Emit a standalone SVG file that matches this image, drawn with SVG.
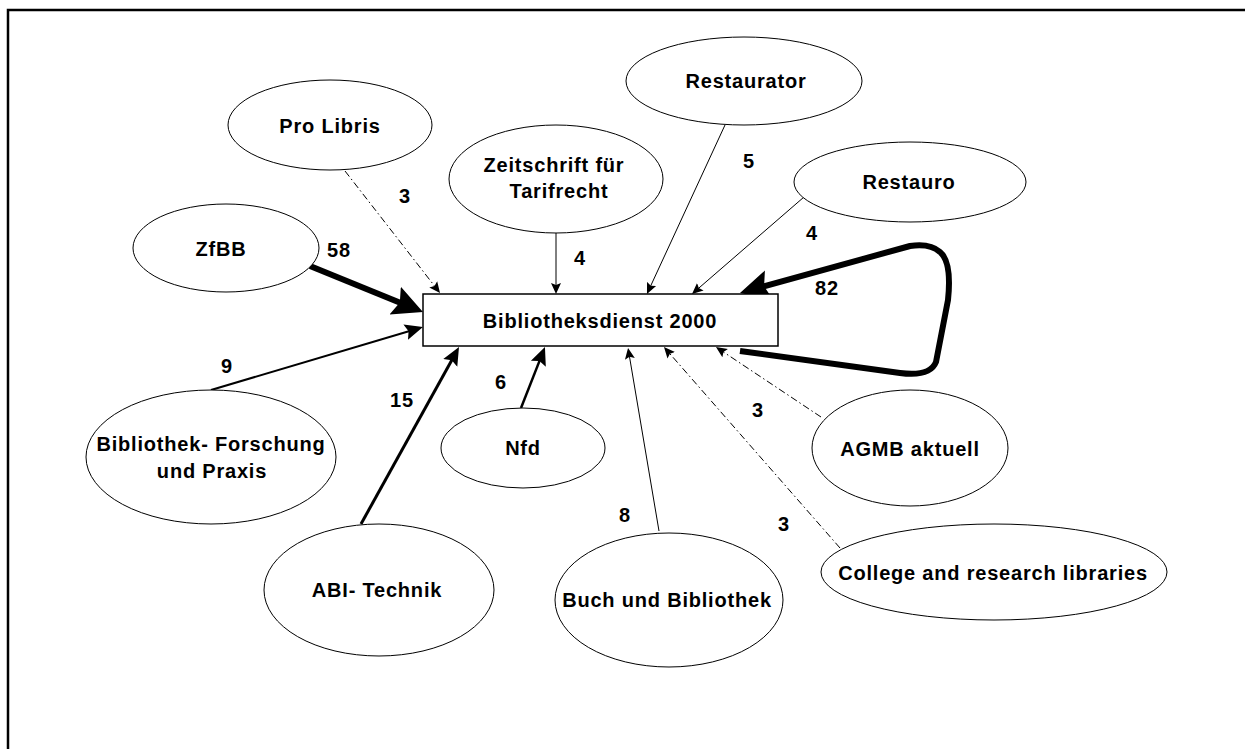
<svg xmlns="http://www.w3.org/2000/svg" width="1245" height="749" viewBox="0 0 1245 749">
<style>
  .bg{fill:#fff}
  .frame{stroke:#000;stroke-width:2.5;fill:none}
  .node ellipse{fill:#fff;stroke:#000;stroke-width:1}
  .node rect{fill:#fff;stroke:#000;stroke-width:1.5}
  text{font-family:"Liberation Sans",Arial,sans-serif;font-weight:bold;font-size:20px;letter-spacing:0.8px;fill:#000;text-anchor:middle}
  .c{fill:none;stroke:#000;stroke-linecap:butt}
  .thin{stroke-width:1;marker-end:url(#ahS)}
  .dd{stroke-dasharray:7 3 1.5 3}
  .med{stroke-width:2.5;marker-end:url(#ahM)}
  .thick{stroke-width:6;marker-end:url(#ahL)}
  .lbl{font-size:20px}
</style>
<defs>
  <marker id="ahS" markerUnits="userSpaceOnUse" viewBox="0 -6 12 12" markerWidth="12" markerHeight="12" refX="4" refY="0" orient="auto">
    <path d="M0,-5 L11,0 L0,5 L2,0 z" fill="#000"/>
  </marker>
  <marker id="ahM" markerUnits="userSpaceOnUse" viewBox="0 -9 19 18" markerWidth="19" markerHeight="18" refX="5" refY="0" orient="auto">
    <path d="M0,-8 L18,0 L0,8 L3,0 z" fill="#000"/>
  </marker>
  <marker id="ahL" markerUnits="userSpaceOnUse" viewBox="0 -16 31 32" markerWidth="31" markerHeight="32" refX="8" refY="0" orient="auto">
    <path d="M0,-15 L30,0 L0,15 L5,0 z" fill="#000"/>
  </marker>
</defs>
<rect class="bg" x="0" y="0" width="1245" height="749"/>
<path class="frame" d="M8,749 L8,10 L1245,10"/>

<g id="connectors">
  <path class="c thin dd" d="M345,171 L435.7,287.5"/>
  <path class="c thin" d="M556,232 L556,287"/>
  <path class="c thin" d="M725,125 L649.9,287.6"/>
  <path class="c thin" d="M804,197 L697.3,289.4"/>
  <path class="c thick" d="M310,266 L402.6,303.7"/>
  <path class="c med" style="stroke-width:2" d="M211,390 L410.5,330.7"/>
  <path class="c med" style="stroke-width:3" d="M361,524 L452.7,358.4"/>
  <path class="c med" d="M521,408 L540.2,359.1"/>
  <path class="c thin" d="M659,531 L629.2,354.9"/>
  <path class="c thin dd" d="M840,548 L668.6,352.3"/>
  <path class="c thin dd" d="M821,417 L721.8,350.9"/>
  <path class="c thick" stroke-linejoin="round" d="M740,351 L900,373 Q930,377 936,362 L948,300 Q952,262 940,252 Q930,243 910,246 L761.2,287.1"/>
  <text class="lbl" x="405" y="203">3</text>
  <text class="lbl" x="580" y="265">4</text>
  <text class="lbl" x="749" y="168">5</text>
  <text class="lbl" x="812" y="240">4</text>
  <text class="lbl" x="339" y="257">58</text>
  <text class="lbl" x="827" y="295">82</text>
  <text class="lbl" x="227" y="373">9</text>
  <text class="lbl" x="402" y="407">15</text>
  <text class="lbl" x="501" y="389">6</text>
  <text class="lbl" x="625" y="522">8</text>
  <text class="lbl" x="758" y="417">3</text>
  <text class="lbl" x="784" y="531">3</text>
</g>

<g id="node-bibliotheksdienst" class="node">
  <rect x="423" y="294" width="355" height="52"/>
  <text x="600" y="328">Bibliotheksdienst 2000</text>
</g>
<g id="node-prolibris" class="node">
  <ellipse cx="330" cy="125" rx="102" ry="45"/>
  <text x="330" y="133">Pro Libris</text>
</g>
<g id="node-zfbb" class="node">
  <ellipse cx="226" cy="248" rx="93" ry="44"/>
  <text x="221" y="256">ZfBB</text>
</g>
<g id="node-zeitschrift" class="node">
  <ellipse cx="556" cy="179" rx="107" ry="54"/>
  <text x="554" y="172">Zeitschrift für</text>
  <text x="559" y="198">Tarifrecht</text>
</g>
<g id="node-restaurator" class="node">
  <ellipse cx="744" cy="81" rx="118" ry="44"/>
  <text x="746" y="88">Restaurator</text>
</g>
<g id="node-restauro" class="node">
  <ellipse cx="910" cy="182" rx="116" ry="40"/>
  <text x="909" y="189">Restauro</text>
</g>
<g id="node-agmb" class="node">
  <ellipse cx="910" cy="448" rx="98" ry="58"/>
  <text x="910" y="456">AGMB aktuell</text>
</g>
<g id="node-college" class="node">
  <ellipse cx="994" cy="572" rx="173" ry="48"/>
  <text x="993" y="580">College and research libraries</text>
</g>
<g id="node-bibforschung" class="node">
  <ellipse cx="211" cy="457" rx="125" ry="67"/>
  <text x="211" y="451">Bibliothek- Forschung</text>
  <text x="212" y="478">und Praxis</text>
</g>
<g id="node-nfd" class="node">
  <ellipse cx="523" cy="448" rx="82" ry="40"/>
  <text x="523" y="455">Nfd</text>
</g>
<g id="node-abitechnik" class="node">
  <ellipse cx="379" cy="590" rx="115" ry="66"/>
  <text x="377" y="597">ABI- Technik</text>
</g>
<g id="node-buch" class="node">
  <ellipse cx="669" cy="600" rx="114" ry="67"/>
  <text x="667" y="607">Buch und Bibliothek</text>
</g>
</svg>
